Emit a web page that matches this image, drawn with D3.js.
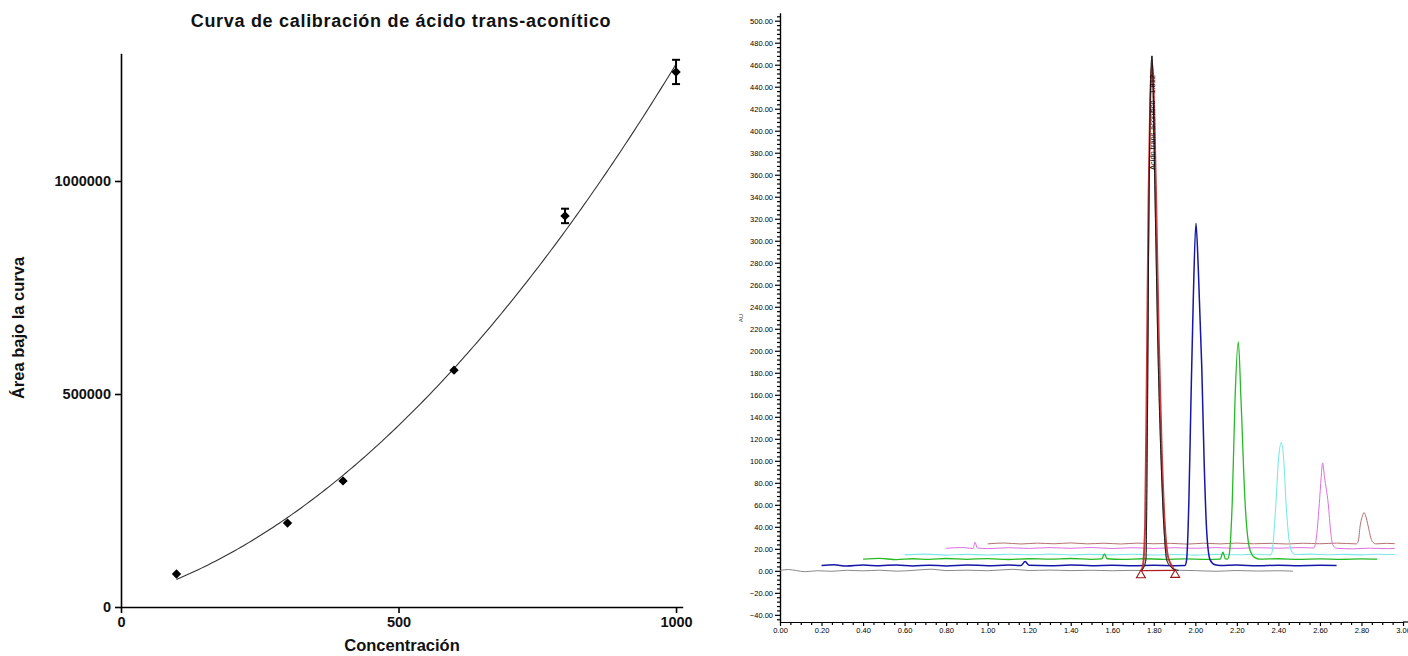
<!DOCTYPE html>
<html><head><meta charset="utf-8">
<script src="https://cdn.jsdelivr.net/npm/d3@7"></script>
<style>body{margin:0;background:#fff} svg{display:block}</style>
</head><body>
<svg id="c" width="1408" height="656"></svg>
<script>
// ---------------- Calibration curve data ----------------
const calTitle = "Curva de calibración de ácido trans-aconítico";
const calXLabel = "Concentración";
const calYLabel = "Área bajo la curva";
const concentrations = [100, 300, 400, 600, 800, 1000];
const areaMeans = [77500, 197000, 296000, 556000, 918000, 1256000];
const areaErrors = [0, 0, 0, 0, 17000, 28500];
const calXTicks = [0, 500, 1000];
const calYTicks = [0, 500000, 1000000];

// ---------------- Chromatogram data (time min, signal) ----------------
const chromYTicks = d3.range(-40, 501, 20);
const chromXTicks = d3.range(0, 3.001, 0.2);
const chromYLabel = "AU";
const peakLabel = "Acido trans-aconitico - 1.812";
const traceBlack = [[0.00,0.3],[0.04,1.2],[0.08,0.2],[0.12,-0.8],[0.18,0.1],[0.25,-0.4],[0.32,0.5],[0.40,0.0],[0.48,0.6],[0.56,-0.3],[0.64,0.4],[0.73,1.5],[0.80,0.2],[0.90,0.6],[1.00,0.1],[1.12,1.4],[1.20,0.3],[1.30,0.7],[1.40,0.2],[1.50,0.5],[1.60,0.1],[1.70,0.4],[1.740,0.3],
  [1.748,2],[1.762,10],[1.770,150],[1.777,337],[1.791,468],[1.806,337],[1.820,200],[1.835,100],[1.850,35],[1.862,10],[1.880,4],[1.902,1],
  [1.92,0.5],[2.00,0.2],[2.10,-0.4],[2.20,0.3],[2.30,-0.2],[2.40,0.1],[2.47,-0.3]];
const traceRedPeak = [[1.740,0],[1.748,5],[1.758,40],[1.766,170],[1.775,340],[1.783,430],[1.793,462],[1.803,410],[1.812,330],[1.824,210],[1.838,110],[1.852,45],[1.866,15],[1.882,6],[1.902,0]];
const redBaseline = [[1.738,0.2],[1.903,0.5]];
const traceBlue = [[0.20,4.8],[0.26,5.6],[0.32,4.3],[0.40,5.2],[0.48,4.6],[0.56,5.4],[0.64,4.5],[0.72,5.1],[0.80,4.4],[0.90,5.3],[1.00,4.7],[1.10,5.2],[1.16,4.8],[1.18,8.4],[1.20,5.0],[1.30,4.6],[1.40,5.3],[1.50,4.7],[1.60,5.1],[1.70,4.6],[1.80,5.0],[1.90,4.7],[1.95,4.8],
  [1.958,10],[1.969,64],[1.979,155],[1.990,246],[2.003,316],[2.014,276],[2.031,185],[2.043,95],[2.055,35],[2.071,10],[2.095,5.5],
  [2.12,4.8],[2.20,5.3],[2.30,4.6],[2.40,5.1],[2.50,4.7],[2.60,5.0],[2.68,4.8]];
const traceGreen = [[0.40,10.6],[0.48,11.3],[0.56,10.2],[0.64,11.0],[0.72,10.4],[0.80,11.2],[0.90,10.5],[1.00,11.1],[1.10,10.3],[1.20,11.0],[1.30,10.6],[1.40,11.2],[1.50,10.5],[1.55,10.9],[1.562,15.5],[1.575,11.0],[1.65,10.4],[1.75,11.0],[1.85,10.5],[1.95,10.9],[2.05,10.4],[2.12,10.6],[2.133,17],[2.145,10.8],
  [2.155,10.6],[2.164,16],[2.178,64],[2.191,155],[2.207,208],[2.220,155],[2.239,64],[2.263,19],[2.287,12],
  [2.31,10.6],[2.40,11.0],[2.50,10.4],[2.60,10.9],[2.70,10.5],[2.80,10.8],[2.876,10.6]];
const traceCyan = [[0.60,14.5],[0.70,15.2],[0.80,14.3],[0.90,15.0],[1.00,14.4],[1.10,15.1],[1.20,14.6],[1.30,15.2],[1.40,14.4],[1.50,15.0],[1.60,14.5],[1.70,15.1],[1.80,14.4],[1.90,14.9],[2.00,14.3],[2.10,15.0],[2.20,14.6],[2.30,15.1],[2.36,14.5],
  [2.368,16],[2.388,61],[2.400,100],[2.414,116.5],[2.426,100],[2.437,61],[2.450,30],[2.464,17.5],
  [2.48,14.8],[2.56,15.2],[2.64,14.6],[2.72,15.0],[2.80,14.5],[2.88,15.1],[2.96,14.8]];
const traceMagenta = [[0.80,20.5],[0.88,21.2],[0.93,20.3],[0.939,26],[0.95,20.8],[1.00,20.2],[1.10,21.0],[1.20,20.4],[1.30,21.1],[1.40,20.5],[1.50,21.2],[1.60,20.3],[1.70,21.0],[1.80,20.4],[1.90,21.0],[2.00,20.5],[2.10,21.1],[2.20,20.4],[2.30,21.0],[2.40,20.6],[2.50,21.1],[2.57,20.8],
  [2.578,24],[2.597,61],[2.606,85],[2.613,98],[2.622,85],[2.640,61],[2.652,35],[2.661,24],
  [2.68,20.5],[2.76,20.0],[2.84,20.6],[2.92,20.2],[2.96,20.4]];
const traceBrown = [[1.00,24.5],[1.08,25.3],[1.16,24.4],[1.24,25.2],[1.32,24.6],[1.40,25.4],[1.48,24.5],[1.56,25.1],[1.64,24.4],[1.72,25.2],[1.80,24.6],[1.88,25.0],[1.96,24.3],[2.04,25.1],[2.12,24.5],[2.20,25.2],[2.28,24.6],[2.36,25.0],[2.44,24.4],[2.52,25.1],[2.60,24.6],[2.68,25.2],[2.775,24.5],
  [2.785,27],[2.793,40],[2.805,50],[2.812,53],[2.820,50],[2.833,40],[2.845,30],[2.855,26],
  [2.87,24.5],[2.92,25.0],[2.96,24.7]];

// ---------------- Drawing ----------------
const svg = d3.select("#c");
const FONT = "'Liberation Sans', Arial, sans-serif";

// ===== Left chart =====
const xC = d3.scaleLinear().domain([0, 1012]).range([121, 682.7]);
const yC = d3.scaleLinear().domain([0, 1300000]).range([607, 53.2]);
const L = svg.append("g");

L.append("text").attr("x", 401).attr("y", 27).attr("text-anchor", "middle")
  .attr("font-family", FONT).attr("font-weight", "bold").attr("font-size", 18).attr("letter-spacing", 0.7).attr("fill", "#111")
  .text(calTitle);

const axB = L.append("g").attr("transform", `translate(0,${yC(0)})`)
  .call(d3.axisBottom(xC).tickValues(calXTicks).tickSize(6).tickSizeOuter(0).tickPadding(4).tickFormat(d3.format("d")));
const axL = L.append("g").attr("transform", `translate(${xC(0)},0)`)
  .call(d3.axisLeft(yC).tickValues(calYTicks).tickSize(6).tickSizeOuter(0).tickPadding(4).tickFormat(d3.format("d")));
[axB, axL].forEach(a => {
  a.selectAll("path,line").attr("stroke", "#000").attr("stroke-width", 1.6);
  a.selectAll("text").attr("font-family", FONT).attr("font-weight", "bold").attr("font-size", 14.5).attr("fill", "#111");
});

L.append("text").attr("x", 402).attr("y", 651).attr("text-anchor", "middle")
  .attr("font-family", FONT).attr("font-weight", "bold").attr("font-size", 16.5).attr("fill", "#111").text(calXLabel);
L.append("text").attr("transform", "translate(24,328) rotate(-90)").attr("text-anchor", "middle")
  .attr("font-family", FONT).attr("font-weight", "bold").attr("font-size", 16.5).attr("fill", "#111").text(calYLabel);

// quadratic least-squares fit of the data
function polyfit2(xs, ys) {
  const s = [0,0,0,0,0], t = [0,0,0];
  xs.forEach((x, i) => {
    for (let k = 0; k < 5; k++) s[k] += Math.pow(x, k);
    for (let k = 0; k < 3; k++) t[k] += Math.pow(x, k) * ys[i];
  });
  const A = [[s[0],s[1],s[2],t[0]],[s[1],s[2],s[3],t[1]],[s[2],s[3],s[4],t[2]]];
  for (let i = 0; i < 3; i++) {
    for (let j = i + 1; j < 3; j++) {
      const f = A[j][i] / A[i][i];
      for (let k = i; k < 4; k++) A[j][k] -= f * A[i][k];
    }
  }
  const c = [0,0,0];
  for (let i = 2; i >= 0; i--) {
    let v = A[i][3];
    for (let k = i + 1; k < 3; k++) v -= A[i][k] * c[k];
    c[i] = v / A[i][i];
  }
  return c;
}
const xsK = concentrations.map(d => d / 1000);
const coef = polyfit2(xsK, areaMeans);
const fitPts = d3.range(concentrations[0], concentrations[concentrations.length - 1] + 0.1, 5)
  .map(x => { const u = x / 1000; return [x, coef[0] + coef[1] * u + coef[2] * u * u]; });
L.append("path").datum(fitPts).attr("fill", "none").attr("stroke", "#333").attr("stroke-width", 1.1)
  .attr("d", d3.line().x(d => xC(d[0])).y(d => yC(d[1])));

const pts = concentrations.map((c, i) => ({ x: c, y: areaMeans[i], e: areaErrors[i] }));
const eb = L.append("g").attr("stroke", "#000").attr("stroke-width", 2);
pts.filter(p => p.e > 0).forEach(p => {
  const cx = xC(p.x), y1 = yC(p.y - p.e), y2 = yC(p.y + p.e);
  eb.append("line").attr("x1", cx).attr("x2", cx).attr("y1", y1).attr("y2", y2);
  eb.append("line").attr("x1", cx - 4).attr("x2", cx + 4).attr("y1", y1).attr("y2", y1);
  eb.append("line").attr("x1", cx - 4).attr("x2", cx + 4).attr("y1", y2).attr("y2", y2);
});
L.append("g").selectAll("path").data(pts).join("path")
  .attr("d", d3.symbol().type(d3.symbolSquare).size(44))
  .attr("transform", d => `translate(${xC(d.x)},${yC(d.y)}) rotate(45)`)
  .attr("fill", "#000");

// ===== Right chart (chromatogram) =====
const xR = d3.scaleLinear().domain([0, 3]).range([780, 1403]);
const yR = d3.scaleLinear().domain([-46.5, 507]).range([622, 13]);
const R = svg.append("g");

const minorY = d3.range(-44, 505, 4).filter(v => Math.abs(v % 20) > 0.01);
const minorX = d3.range(0, 3.01, 0.05).filter(v => Math.abs(Math.round(v / 0.2) * 0.2 - v) > 0.001);

const ayMinor = R.append("g").attr("transform", `translate(${xR(0)},0)`)
  .call(d3.axisLeft(yR).tickValues(minorY).tickSize(3).tickSizeOuter(0).tickFormat(""));
const ay = R.append("g").attr("transform", `translate(${xR(0)},0)`)
  .call(d3.axisLeft(yR).tickValues(chromYTicks).tickSize(5).tickSizeOuter(0).tickPadding(2).tickFormat(d3.format(".2f")));
const axMinor = R.append("g").attr("transform", `translate(0,${yR.range()[0]})`)
  .call(d3.axisBottom(xR).tickValues(minorX).tickSize(3).tickSizeOuter(0).tickFormat(""));
const ax = R.append("g").attr("transform", `translate(0,${yR.range()[0]})`)
  .call(d3.axisBottom(xR).tickValues(chromXTicks).tickSize(4).tickSizeOuter(0).tickPadding(2).tickFormat(d3.format(".2f")));
[ayMinor, ay, axMinor, ax].forEach(a => {
  a.selectAll("path,line").attr("stroke", "#000").attr("stroke-width", 1.2);
  a.selectAll("text").attr("font-family", FONT).attr("font-size", 7.5).attr("fill", "#000");
});
R.append("line").attr("x1", xR(3)).attr("x2", 1408).attr("y1", yR.range()[0]).attr("y2", yR.range()[0])
  .attr("stroke", "#000").attr("stroke-width", 1.2);
R.append("text").attr("transform", "translate(743,318) rotate(-90)").attr("text-anchor", "middle")
  .attr("font-family", FONT).attr("font-size", 6).attr("fill", "#333").text(chromYLabel);

const lineR = d3.line().x(d => xR(d[0])).y(d => yR(d[1])).curve(d3.curveMonotoneX);
const traces = [
  { data: traceBrown, color: "#b5706f", w: 1 },
  { data: traceMagenta, color: "#de6fe0", w: 1 },
  { data: traceCyan, color: "#7ee8e8", w: 1.1 },
  { data: traceGreen, color: "#25bb25", w: 1.3 },
  { data: traceBlue, color: "#1616a8", w: 1.5 },
  { data: traceBlack, color: "#7a7a7a", w: 0.9 }
];
traces.forEach(t => {
  R.append("path").datum(t.data).attr("fill", "none").attr("stroke", t.color)
    .attr("stroke-width", t.w).attr("d", lineR);
});
// integrated peak (red) with baseline and markers
R.append("path").datum(traceRedPeak).attr("fill", "none").attr("stroke", "#c0282a")
  .attr("stroke-width", 2).attr("stroke-opacity", 0.9).attr("d", lineR);
R.append("path").datum(traceBlack.filter(d => d[0] >= 1.74 && d[0] <= 1.92)).attr("fill", "none")
  .attr("stroke", "#111").attr("stroke-width", 0.9).attr("d", lineR);
R.append("path").datum(redBaseline).attr("fill", "none").attr("stroke", "#b02020").attr("stroke-width", 1.2)
  .attr("d", d3.line().x(d => xR(d[0])).y(d => yR(d[1])));
R.append("g").selectAll("path").data(redBaseline).join("path")
  .attr("d", d3.symbol().type(d3.symbolTriangle).size(34))
  .attr("transform", d => `translate(${xR(d[0])},${yR(d[1]) + 4.5})`)
  .attr("fill", "none").attr("stroke", "#9a1515").attr("stroke-width", 1.1);

R.append("text").attr("transform", `translate(${xR(1.791) + 3},170) rotate(-90)`)
  .attr("font-family", FONT).attr("font-size", 7.5).attr("fill", "#000").text(peakLabel);
</script>
</body></html>
